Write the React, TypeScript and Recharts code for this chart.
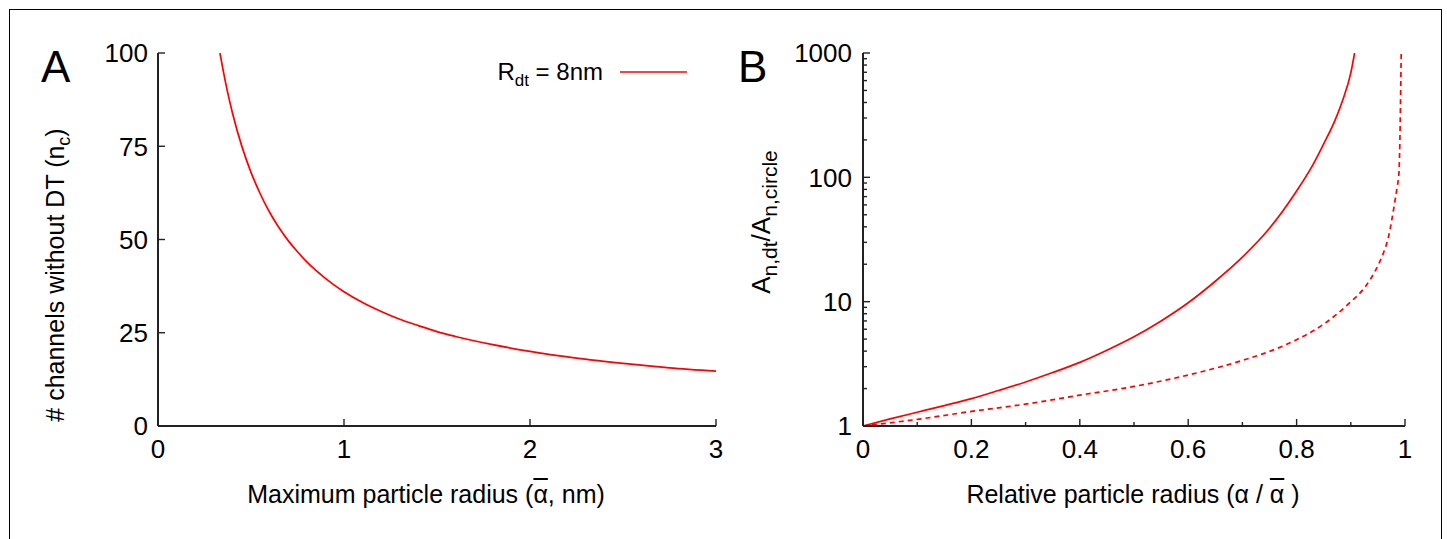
import React from 'react';
import { LineChart, Line, XAxis, YAxis } from 'recharts';

// ---------- Panel A data ----------
const radiusA = [0.333, 0.35, 0.375, 0.4, 0.45, 0.5, 0.55, 0.6, 0.65, 0.7, 0.75, 0.8, 0.9, 1.0, 1.1, 1.2, 1.3, 1.4, 1.5, 1.6, 1.8, 2.0, 2.25, 2.5, 2.75, 3.0];
const channelsA = [100, 95.4, 89.3, 84, 75.1, 68, 62.2, 57.3, 53.2, 49.7, 46.7, 44, 39.6, 36, 33.1, 30.7, 28.6, 26.9, 25.3, 24, 21.8, 20, 18.2, 16.8, 15.6, 14.7];
const xTicksA = [0, 1, 2, 3];
const yTicksA = [0, 25, 50, 75, 100];
const legendA = '8nm';

// ---------- Panel B data ----------
const relSolidX = [0, 0.05, 0.1, 0.15, 0.2, 0.25, 0.3, 0.35, 0.4, 0.45, 0.5, 0.55, 0.6, 0.65, 0.7, 0.75, 0.8, 0.83, 0.85, 0.87, 0.885, 0.9, 0.907];
const relSolidY = [1, 1.14, 1.29, 1.46, 1.66, 1.93, 2.26, 2.69, 3.25, 4.07, 5.22, 7.0, 9.8, 14.6, 22.8, 38.9, 77.6, 126, 186, 282, 417, 692, 1000];
const relDashX = [0, 0.1, 0.2, 0.3, 0.4, 0.5, 0.6, 0.7, 0.75, 0.8, 0.85, 0.9, 0.925, 0.95, 0.96, 0.97, 0.98, 0.985, 0.989, 0.991, 0.993];
const relDashY = [1, 1.13, 1.31, 1.5, 1.77, 2.08, 2.57, 3.37, 3.98, 4.95, 6.6, 10, 12.9, 19.5, 24.5, 33.9, 59, 81, 112, 251, 1000];
const xTicksB = [0, 0.1, 0.2, 0.3, 0.4, 0.5, 0.6, 0.7, 0.8, 0.9, 1];
const xLabelsB = ['0', '', '0.2', '', '0.4', '', '0.6', '', '0.8', '', '1'];
const yTicksB = [1, 2, 3, 4, 5, 6, 7, 8, 9, 10, 20, 30, 40, 50, 60, 70, 80, 90, 100, 200, 300, 400, 500, 600, 700, 800, 900, 1000];
const yMajorB = [1, 10, 100, 1000];

const dataA = radiusA.map((x, i) => ({ x, y: channelsA[i] }));
const dataSolid = relSolidX.map((x, i) => ({ x, y: relSolidY[i] }));
const dataDash = relDashX.map((x, i) => ({ x, y: relDashY[i] }));

const FONT = '"Liberation Sans", Arial, Helvetica, sans-serif';
const RED = '#ff0000';
const AX = '#222';
const TICK_FS = 26;
const LABEL_FS = 25;

type Side = 'left' | 'right' | 'top' | 'bottom';

function makeTick(side: Side, margin: number, label: (v: number) => string, len: (v: number) => number) {
  return (props: any) => {
    const { x, y, payload } = props;
    const v = payload.value;
    const L = len(v);
    const lab = label(v);
    let line: any = null;
    let text: any = null;
    if (side === 'left') {
      line = <line x1={x + margin} x2={x + margin + L} y1={y} y2={y} stroke={AX} strokeWidth={1.4} />;
      if (lab) text = <text x={x} y={y} dy="0.36em" textAnchor="end" fontSize={TICK_FS} fontFamily={FONT} fill="#000">{lab}</text>;
    } else if (side === 'right') {
      line = <line x1={x - margin} x2={x - margin - L} y1={y} y2={y} stroke={AX} strokeWidth={1.4} />;
    } else if (side === 'top') {
      line = <line x1={x} x2={x} y1={y + margin} y2={y + margin + L} stroke={AX} strokeWidth={1.4} />;
    } else {
      line = <line x1={x} x2={x} y1={y - margin} y2={y - margin - L} stroke={AX} strokeWidth={1.4} />;
      if (lab) text = <text x={x} y={y} dy="0.72em" textAnchor="middle" fontSize={TICK_FS} fontFamily={FONT} fill="#000">{lab}</text>;
    }
    return (
      <g>
        {line}
        {text}
      </g>
    );
  };
}

const noLabel = () => '';
const subStyle = (fs: number): React.CSSProperties => ({ fontSize: fs, verticalAlign: '-0.35em', lineHeight: 0 });
const over: React.CSSProperties = { textDecoration: 'overline' };

export default function App() {
  return (
    <div style={{ position: 'absolute', left: 0, top: 0, width: 1447, height: 539, background: '#fff', overflow: 'hidden', fontFamily: FONT }}>
      <div style={{ position: 'absolute', left: 9, top: 9, width: 1433, height: 600, border: '1px solid #000', boxSizing: 'border-box' }} />

      {/* Panel A */}
      <div style={{ position: 'absolute', left: 0, top: 0 }}>
        <LineChart width={740} height={539} data={dataA} margin={{ top: 53, right: 24, bottom: 0, left: 0 }}>
          <XAxis dataKey="x" type="number" domain={[0, 3]} ticks={xTicksA} interval={0} height={113}
            axisLine={{ stroke: AX, strokeWidth: 2 }} tickLine={false} tickSize={0} tickMargin={13}
            tick={makeTick('bottom', 13, (v) => String(v), () => 7)} />
          <XAxis xAxisId="top" orientation="top" type="number" domain={[0, 3]} ticks={xTicksA} interval={0} height={0}
            axisLine={{ stroke: AX, strokeWidth: 2 }} tickLine={false} tickSize={0} tickMargin={0}
            tick={makeTick('top', 0, noLabel, () => 7)} />
          <YAxis type="number" domain={[0, 100]} allowDataOverflow ticks={yTicksA} interval={0} width={158}
            axisLine={{ stroke: AX, strokeWidth: 2 }} tickLine={false} tickSize={0} tickMargin={10}
            tick={makeTick('left', 10, (v) => String(v), () => 7)} />
          <YAxis yAxisId="right" orientation="right" type="number" domain={[0, 100]} ticks={yTicksA} interval={0} width={0}
            axisLine={{ stroke: AX, strokeWidth: 2 }} tickLine={false} tickSize={0} tickMargin={0}
            tick={makeTick('right', 0, noLabel, () => 7)} />
          <Line dataKey="y" type="monotone" stroke={RED} strokeWidth={1.7} dot={false} isAnimationActive={false} />
        </LineChart>
      </div>

      {/* Panel B */}
      <div style={{ position: 'absolute', left: 0, top: 0 }}>
        <LineChart width={1430} height={539} margin={{ top: 53, right: 25, bottom: 0, left: 0 }}>
          <XAxis dataKey="x" type="number" domain={[0, 1]} ticks={xTicksB} interval={0} height={113}
            axisLine={{ stroke: AX, strokeWidth: 2 }} tickLine={false} tickSize={0} tickMargin={13}
            tick={makeTick('bottom', 13, (v) => xLabelsB[xTicksB.indexOf(v)] ?? '', (v) => (xLabelsB[xTicksB.indexOf(v)] ? 7 : 4))} />
          <XAxis xAxisId="top" orientation="top" type="number" domain={[0, 1]} ticks={xTicksB} interval={0} height={0}
            axisLine={{ stroke: AX, strokeWidth: 2 }} tickLine={false} tickSize={0} tickMargin={0}
            tick={makeTick('top', 0, noLabel, (v) => (xLabelsB[xTicksB.indexOf(v)] ? 7 : 4))} />
          <YAxis type="number" scale="log" domain={[1, 1000]} allowDataOverflow ticks={yTicksB} interval={0} width={863}
            axisLine={{ stroke: AX, strokeWidth: 2 }} tickLine={false} tickSize={0} tickMargin={11}
            tick={makeTick('left', 11, (v) => (yMajorB.includes(v) ? String(v) : ''), (v) => (yMajorB.includes(v) ? 7 : 4))} />
          <YAxis yAxisId="right" orientation="right" type="number" scale="log" domain={[1, 1000]} allowDataOverflow ticks={yTicksB} interval={0} width={0}
            axisLine={{ stroke: AX, strokeWidth: 2 }} tickLine={false} tickSize={0} tickMargin={0}
            tick={makeTick('right', 0, noLabel, (v) => (yMajorB.includes(v) ? 7 : 4))} />
          <Line data={dataSolid} dataKey="y" type="monotone" stroke={RED} strokeWidth={1.7} dot={false} isAnimationActive={false} />
          <Line data={dataDash} dataKey="y" type="monotone" stroke={RED} strokeWidth={1.7} strokeDasharray="5 4" dot={false} isAnimationActive={false} />
        </LineChart>
      </div>

      {/* Legend A */}
      <div style={{ position: 'absolute', left: 403, top: 58, width: 200, height: 28, textAlign: 'right', fontSize: 24, lineHeight: '28px', color: '#000', whiteSpace: 'nowrap' }}>
        R<sub style={subStyle(17)}>dt</sub> = {legendA}
      </div>
      <svg style={{ position: 'absolute', left: 620, top: 67 }} width={70} height={10}>
        <line x1={0} x2={67} y1={5} y2={5} stroke={RED} strokeWidth={1.6} />
      </svg>

      {/* Panel letters */}
      <div style={{ position: 'absolute', left: 41, top: 45, fontSize: 44, lineHeight: '44px', color: '#000' }}>A</div>
      <div style={{ position: 'absolute', left: 738, top: 45, fontSize: 44, lineHeight: '44px', color: '#000' }}>B</div>

      {/* Axis labels A */}
      <div style={{ position: 'absolute', left: 226, top: 482, width: 400, textAlign: 'center', fontSize: LABEL_FS, lineHeight: '25px', color: '#000', whiteSpace: 'nowrap' }}>
        Maximum particle radius (<span style={over}>α</span>, nm)
      </div>
      <div style={{ position: 'absolute', left: 55 - 200, top: 275 - 13, width: 400, height: 26, textAlign: 'center', fontSize: LABEL_FS, lineHeight: '26px', color: '#000', whiteSpace: 'nowrap', transform: 'rotate(-90deg)', transformOrigin: '200px 13px' }}>
        # channels without DT (n<sub style={subStyle(18)}>c</sub>)
      </div>

      {/* Axis labels B */}
      <div style={{ position: 'absolute', left: 933, top: 482, width: 400, textAlign: 'center', fontSize: LABEL_FS, lineHeight: '25px', color: '#000', whiteSpace: 'nowrap' }}>
        Relative particle radius (α / <span style={over}>α</span> )
      </div>
      <div style={{ position: 'absolute', left: 761 - 200, top: 222 - 13, width: 400, height: 26, textAlign: 'center', fontSize: 26, lineHeight: '26px', color: '#000', whiteSpace: 'nowrap', transform: 'rotate(-90deg)', transformOrigin: '200px 13px' }}>
        A<sub style={subStyle(21)}>n,dt</sub>/A<sub style={subStyle(21)}>n,circle</sub>
      </div>
    </div>
  );
}
